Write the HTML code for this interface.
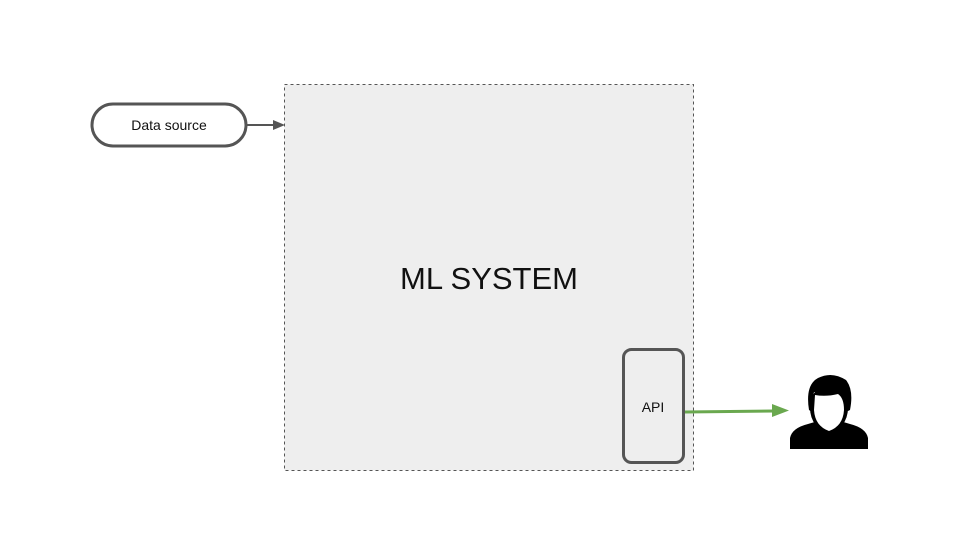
<!DOCTYPE html>
<html><head><style>body{margin:0;background:#fff}svg{display:block}</style></head><body>
<svg width="960" height="540" viewBox="0 0 960 540" xmlns="http://www.w3.org/2000/svg" font-family="'Liberation Sans', sans-serif">
<rect x="284.5" y="84.5" width="409" height="386" fill="#eeeeee" stroke="#555" stroke-width="1" stroke-dasharray="3,3"/>
<text x="489" y="289" font-size="31" text-anchor="middle" fill="#111">ML SYSTEM</text>
<rect x="92" y="104" width="154" height="42" rx="21" fill="#fff" stroke="#555" stroke-width="3"/>
<text x="169" y="130" font-size="14" text-anchor="middle" fill="#111">Data source</text>
<line x1="246" y1="125" x2="274" y2="125" stroke="#555" stroke-width="2"/>
<polygon points="285,125 273,120 273,130" fill="#555"/>
<rect x="623.5" y="349.5" width="60" height="113" rx="8" fill="#eeeeee" stroke="#555" stroke-width="3"/>
<text x="653" y="412" font-size="14" text-anchor="middle" fill="#111">API</text>
<line x1="685" y1="412" x2="774" y2="411" stroke="#6aa84f" stroke-width="3"/>
<polygon points="789,410.5 772,404 772,417" fill="#6aa84f"/>
<!-- person -->
<path d="M790,449 L790,438 Q792,428 808,424 L818,421 Q829,430 840,421 L850,424 Q866,428 868,438 L868,449 Z" fill="#000"/>
<path d="M809,410 Q805,385 818,378 Q832,371 846,380 Q854,390 850,410 L846,412 Q848,395 838,392 Q826,394 814,392 Q812,400 812,412 Z" fill="#000"/>
<ellipse cx="829" cy="408" rx="19" ry="24" fill="#000"/>
<path d="M815,395 Q826,397 838,394 Q844,398 844,410 Q843,426 829,431 Q815,426 814,410 Z" fill="#fff"/>
</svg>
</body></html>
